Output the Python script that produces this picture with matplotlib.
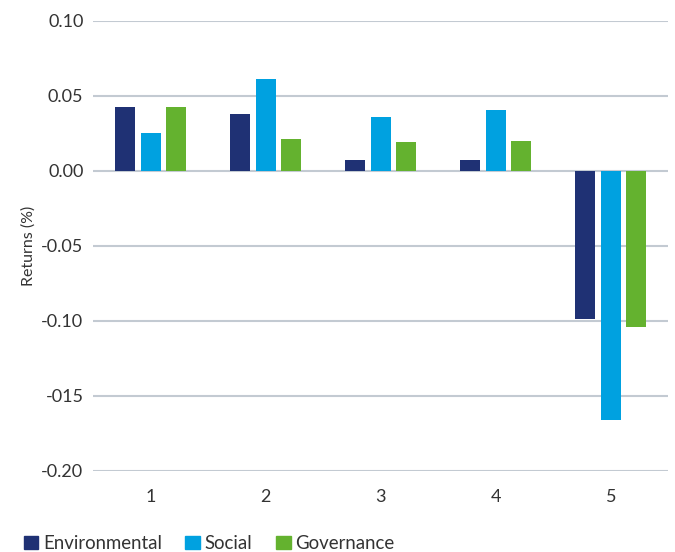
import matplotlib
matplotlib.use("Agg")
import matplotlib.pyplot as plt
import numpy as np
from matplotlib.patches import Patch

plt.rcParams['font.family'] = ['Lato', 'DejaVu Sans']

# data
groups = ["1", "2", "3", "4", "5"]
environmental = [0.0425, 0.038, 0.0073, 0.0073, -0.099]
social = [0.025, 0.0613, 0.036, 0.0404, -0.1664]
governance = [0.0425, 0.0213, 0.019, 0.020, -0.1038]
series_names = ["Environmental", "Social", "Governance"]
ytick_vals = [0.10, 0.05, 0.00, -0.05, -0.10, -0.15, -0.20]
ytick_labels = ["0.10", "0.05", "0.00", "-0.05", "-0.10", "-015", "-0.20"]

colors = ["#1f3174", "#00a1e0", "#64b22f"]
text_col = "#333333"
grid_col = "#c3cad2"

fig = plt.figure(figsize=(6.75, 5.52), dpi=100)
ax = fig.add_axes([0.138, 0.147, 0.852, 0.815])

x = np.arange(len(groups))
w = 0.174
step = 0.222
for i, vals in enumerate([environmental, social, governance]):
    ax.bar(x + (i - 1) * step, vals, width=w, color=colors[i], zorder=3)

ax.set_xlim(-0.5, len(groups) - 0.5)
ax.set_ylim(-0.20, 0.10)
ax.set_yticks(ytick_vals)
ax.set_yticklabels(ytick_labels)
for v in ytick_vals:
    ax.axhline(v, color=grid_col, lw=1.5, zorder=1)

ax.set_xticks(x)
ax.set_xticklabels(groups)

for s in ax.spines.values():
    s.set_visible(False)
ax.tick_params(axis='both', length=0, labelsize=13, colors=text_col)
ax.tick_params(axis='y', pad=7)
ax.tick_params(axis='x', pad=13)

ax.set_ylabel("Returns (%)", fontsize=11.5, color=text_col, labelpad=4)

handles = [Patch(color=c, label=n) for c, n in zip(colors, series_names)]
fig.legend(handles=handles, loc='lower left', bbox_to_anchor=(0.010, -0.030), ncol=3,
           frameon=False, fontsize=13.4, handlelength=0.8, handleheight=0.75,
           handletextpad=0.25, columnspacing=1.25, labelcolor=text_col)

fig.savefig("out.png", dpi=100)
